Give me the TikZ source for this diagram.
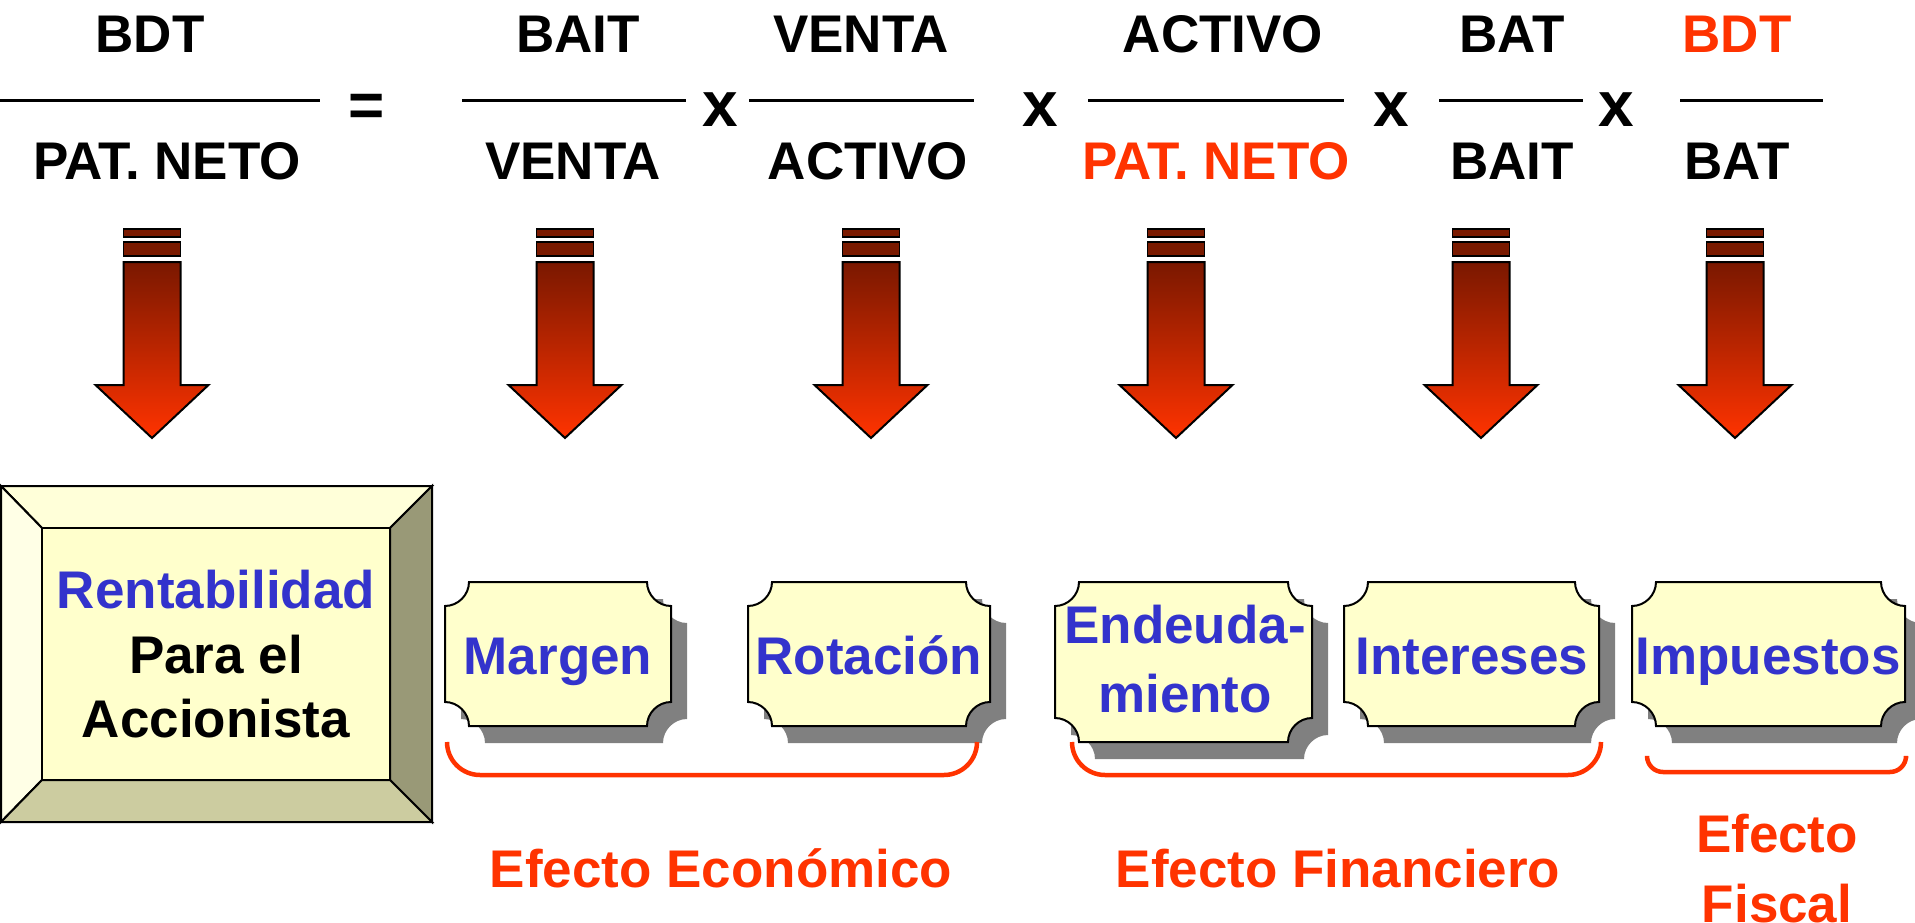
\documentclass[tikz,border=0pt]{standalone}
\usepackage{fontspec}
\setmainfont{Liberation Sans}
\definecolor{redtxt}{HTML}{FF3300}
\definecolor{bluetxt}{HTML}{3333CC}
\definecolor{plaquefill}{HTML}{FFFFCC}
\definecolor{shadowgray}{HTML}{808080}
\definecolor{bardark}{HTML}{7A1A00}
\definecolor{arrowtop}{HTML}{7A1800}
\definecolor{arrowmid}{HTML}{D42A00}
\definecolor{arrowbot}{HTML}{FF3300}
\definecolor{bevtop}{HTML}{FFFFD9}
\definecolor{bevleft}{HTML}{FFFFE6}
\definecolor{bevright}{HTML}{999977}
\definecolor{bevbot}{HTML}{CCCCA0}
\newcommand\plaquepath[4]{({#1+24},{#2}) -- ({#3-24},{#2}) .. controls ({#3-24},{#2+13}) and ({#3-13},{#2+24}) .. ({#3},{#2+24}) -- ({#3},{#4-24}) .. controls ({#3-13},{#4-24}) and ({#3-24},{#4-13}) .. ({#3-24},{#4}) -- ({#1+24},{#4}) .. controls ({#1+24},{#4-13}) and ({#1+13},{#4-24}) .. ({#1},{#4-24}) -- ({#1},{#2+24}) .. controls ({#1+13},{#2+24}) and ({#1+24},{#2+13}) .. ({#1+24},{#2}) -- cycle}
\tikzset{
  pics/plaque/.style 2 args={code={
    \fill[shadowgray] \plaquepath{16}{17}{#1+16}{#2+17};
    \filldraw[fill=plaquefill, draw=black, line width=2pt] \plaquepath{0}{0}{#1}{#2};
  }},
  pics/bigarrow/.style={code={
    \filldraw[fill=bardark, draw=black, line width=1.5pt] (-28.5,229) rectangle (28.5,237);
    \filldraw[fill=bardark, draw=black, line width=1.5pt] (-28.5,242) rectangle (28.5,256);
    \shadedraw[top color=arrowtop, middle color=arrowmid, bottom color=arrowbot, draw=black, line width=2pt, line join=miter]
      (-28.5,262) -- (28.5,262) -- (28.5,385) -- (56.5,385) -- (0,438) -- (-56.5,385) -- (-28.5,385) -- cycle;
  }},
  txt/.style={font=\fontsize{53}{64}\selectfont\bfseries, inner sep=0pt, anchor=base},
  optxt/.style={font=\fontsize{64}{70}\selectfont\bfseries, inner sep=0pt, anchor=base},
  fracline/.style={line width=3pt},
  brace/.style={draw=redtxt, line width=4.5pt},
  bev/.style={draw=black, line width=2pt, line join=miter}
}
\begin{document}
\begin{tikzpicture}[x=1pt,y=-1pt]
\useasboundingbox (0,0) rectangle (1915,923);
\fill[white] (0,0) rectangle (1915,923);
% ---- top formula
\node[txt] (bdt1) at (150,53) {BDT};
\node[txt] (pn1) at (167,179) {PAT. NETO};
\draw[fracline] (0,101) -- (320,101);
\node[optxt, font=\fontsize{62}{70}\selectfont\bfseries] (eq) at (367,127) {=};
\node[txt] (bait1) at (578,53) {BAIT};
\node[txt] (venta1) at (573,179) {VENTA};
\draw[fracline] (462,101) -- (686,101);
\node[optxt] (x1) at (720,127) {x};
\node[txt] (venta2) at (861,53) {VENTA};
\node[txt] (activo1) at (868,179) {ACTIVO};
\draw[fracline] (749,101) -- (974,101);
\node[optxt] (x2) at (1040,127) {x};
\node[txt] (activo2) at (1223,53) {ACTIVO};
\node[txt, text=redtxt] (pn2) at (1216,179) {PAT. NETO};
\draw[fracline] (1088,101) -- (1344,101);
\node[optxt] (x3) at (1391,127) {x};
\node[txt] (bat1) at (1512,53) {BAT};
\node[txt] (bait2) at (1512,179) {BAIT};
\draw[fracline] (1439,101) -- (1583,101);
\node[optxt] (x4) at (1616,127) {x};
\node[txt, text=redtxt] (bdt2) at (1737,53) {BDT};
\node[txt] (bat2) at (1737,179) {BAT};
\draw[fracline] (1680,101) -- (1823,101);
% ---- arrows
\foreach \cx in {152,565,871,1176,1481,1735} {
  \pic at (\cx,0) {bigarrow};
}
% ---- bevel box
\filldraw[bev, fill=bevtop] (1,486) -- (432,486) -- (390,528) -- (42,528) -- cycle;
\filldraw[bev, fill=bevleft] (1,486) -- (42,528) -- (42,780) -- (1,822) -- cycle;
\filldraw[bev, fill=bevright] (432,486) -- (432,822) -- (390,780) -- (390,528) -- cycle;
\filldraw[bev, fill=bevbot] (1,822) -- (432,822) -- (390,780) -- (42,780) -- cycle;
\filldraw[bev, fill=plaquefill] (42,528) rectangle (390,780);
\node[txt, text=bluetxt] (rent) at (216,608) {Rentabilidad};
\node[txt] (para) at (216,673) {Para el};
\node[txt] (accion) at (216,737) {Accionista};
% ---- plaques
\pic at (445,582) {plaque={226}{144}};
\pic at (748,582) {plaque={242}{144}};
\pic at (1055,582) {plaque={257}{160}};
\pic at (1344,582) {plaque={255}{144}};
\pic at (1632,582) {plaque={273}{144}};
\node[txt, text=bluetxt] (margen) at (558,674) {Margen};
\node[txt, text=bluetxt] (rotacion) at (869,674) {Rotación};
\node[txt, text=bluetxt] (endeuda) at (1185,643) {Endeuda-};
\node[txt, text=bluetxt] (miento) at (1185,712) {miento};
\node[txt, text=bluetxt] (intereses) at (1472,674) {Intereses};
\node[txt, text=bluetxt] (impuestos) at (1768,674) {Impuestos};
% ---- braces
\draw[brace, rounded corners=33pt] (447,742) -- (447,775) -- (977,775) -- (977,742);
\draw[brace, rounded corners=33pt] (1072,742) -- (1072,775) -- (1601,775) -- (1601,742);
\draw[brace, rounded corners=16pt] (1647,758) -- (1647,772) -- (1906,772) -- (1906,758);
% ---- labels
\node[txt, text=redtxt] (econ) at (721,887) {Efecto Económico};
\node[txt, text=redtxt] (fin) at (1338,887) {Efecto Financiero};
\node[txt, text=redtxt] (fisc1) at (1777,852) {Efecto};
\node[txt, text=redtxt] (fisc2) at (1777,922) {Fiscal};
\end{tikzpicture}
\end{document}
